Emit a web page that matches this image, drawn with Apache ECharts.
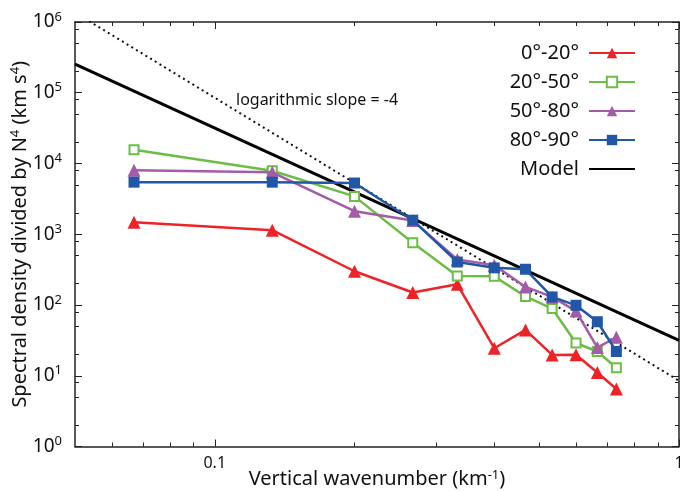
<!DOCTYPE html>
<html>
<head>
<meta charset="utf-8">
<script src="https://cdn.jsdelivr.net/npm/echarts@6/dist/echarts.min.js"></script>
<style>html,body{margin:0;padding:0;background:#fff;}#c{width:680px;height:491px;}</style>
</head>
<body>
<div id="c"></div>
<script>
// ---- data ----
const wavenumber = [0.067, 0.133, 0.200, 0.267, 0.333, 0.400, 0.467, 0.533, 0.600, 0.667, 0.733];
const lat0_20  = [1480, 1140, 300, 150, 196, 24.5, 44.5, 19.7, 19.8, 11.1, 6.5];
const lat20_50 = [15600, 7900, 3430, 760, 257, 254, 132, 89, 29, 22, 13];
const lat50_80 = [8000, 7500, 2120, 1560, 440, 366, 180, 130, 82, 25, 35];
const lat80_90 = [5450, 5450, 5300, 1580, 405, 335, 320, 130, 99, 58, 22];
const modelX = [0.05, 1];
const modelY = [253000, 31.6];
const slopeX = [0.05, 1];
const slopeY = [1360000, 8.5];
const seriesNames = ['0°-20°', '20°-50°', '50°-80°', '80°-90°', 'Model'];
const xMajorTicks = [0.1, 1];
const xMinorTicks = [0.06, 0.07, 0.08, 0.09, 0.2, 0.3, 0.4, 0.5, 0.6, 0.7, 0.8, 0.9];
const yMajorTicks = [1, 10, 100, 1000, 10000, 100000, 1000000];
const yMinorTicks = [2, 5, 8, 20, 50, 80, 200, 500, 800, 2000, 5000, 8000, 20000, 50000, 80000, 200000, 500000, 800000];

const FONT = 'Noto Sans';
const zip = (xs, ys) => xs.map((x, i) => [x, ys[i]]);
const axisCol = '#222';

function xAxisDef(pos, ticks, len, showLine, labels) {
  return {
    type: 'log', logBase: 10, min: 0.05, max: 1, position: pos,
    axisLine: { show: showLine, lineStyle: { color: axisCol, width: 1.5 } },
    axisTick: { show: true, inside: true, length: len, customValues: ticks, lineStyle: { color: axisCol, width: 1 } },
    axisLabel: labels ? { show: true, customValues: xMajorTicks, margin: 9, fontFamily: FONT, fontSize: 16, color: '#111',
      formatter: v => String(+v.toPrecision(3)) } : { show: false },
    splitLine: { show: false }
  };
}
function yAxisDef(pos, ticks, len, showLine, labels) {
  return {
    type: 'log', logBase: 10, min: 1, max: 1000000, position: pos,
    axisLine: { show: showLine, lineStyle: { color: axisCol, width: 1.5 } },
    axisTick: { show: true, inside: true, length: len, customValues: ticks, lineStyle: { color: axisCol, width: 1 } },
    axisLabel: labels ? { show: true, customValues: yMajorTicks, margin: 13, color: '#111',
      formatter: v => '{b|10}{s|' + Math.round(Math.log10(v)) + '}',
      rich: { b: { fontFamily: FONT, fontSize: 19, color: '#111' },
              s: { fontFamily: FONT, fontSize: 13, color: '#111', verticalAlign: 'bottom', padding: [0, 0, 10, 0] } } } : { show: false },
    splitLine: { show: false }
  };
}

const chart = echarts.init(document.getElementById('c'), null, { renderer: 'canvas' });
const option = {
  animation: false,
  backgroundColor: '#fff',
  grid: { left: 75, right: 1, top: 22, bottom: 44.5, containLabel: false, outerBoundsMode: 'none' },
  xAxis: [
    Object.assign(xAxisDef('bottom', xMajorTicks, 7, true, true), {
      name: '{a|Vertical wavenumber (km}{s|-1}{a|)}', nameLocation: 'middle', nameGap: 22, nameMoveOverlap: false,
      nameTextStyle: { rich: { a: { fontFamily: FONT, fontSize: 20, color: '#111' },
        s: { fontFamily: FONT, fontSize: 13, color: '#111', verticalAlign: 'bottom', padding: [0, 0, 9, 0] } } }
    }),
    xAxisDef('bottom', xMinorTicks, 4, false, false),
    xAxisDef('top', xMajorTicks, 7, true, false),
    xAxisDef('top', xMinorTicks, 4, false, false)
  ],
  yAxis: [
    Object.assign(yAxisDef('left', yMajorTicks, 7, true, true), {
      name: '{a|Spectral density divided by N}{s|4}{a| (km s}{s|4}{a|)}', nameLocation: 'middle', nameGap: 44, nameRotate: 90, nameMoveOverlap: false,
      nameTextStyle: { rich: { a: { fontFamily: FONT, fontSize: 20, color: '#111' },
        s: { fontFamily: FONT, fontSize: 13, color: '#111', verticalAlign: 'bottom', padding: [0, 0, 9, 0] } } }
    }),
    yAxisDef('left', yMinorTicks, 4, false, false),
    yAxisDef('right', yMajorTicks, 7, true, false),
    yAxisDef('right', yMinorTicks, 4, false, false)
  ],
  legend: {
    orient: 'vertical', right: 44, top: 43, align: 'right', padding: 0,
    itemWidth: 46, itemHeight: 13, itemGap: 9,
    textStyle: { fontFamily: FONT, fontSize: 20, color: '#111', padding: [0, 5, 0, 0] },
    data: seriesNames.slice(0, 4).concat([{ name: 'Model', itemStyle: { opacity: 0 } }])
  },
  graphic: [{
    type: 'text', left: 236, top: 92,
    style: { text: 'logarithmic slope = -4', fontFamily: FONT, fontSize: 16, fill: '#111' }
  }],
  series: [
    { name: 'slope', type: 'line', data: zip(slopeX, slopeY), showSymbol: false, symbol: 'none', clip: true,
      lineStyle: { color: '#111', width: 2, type: [2, 3.5] }, z: 1, silent: true },
    { name: 'Model', type: 'line', data: zip(modelX, modelY), showSymbol: false, symbol: 'none', clip: true,
      lineStyle: { color: '#000', width: 3 }, itemStyle: { color: '#000', opacity: 0 }, z: 2 },
    { name: seriesNames[0], type: 'line', data: zip(wavenumber, lat0_20), symbol: 'triangle', symbolSize: 13,
      lineStyle: { color: '#ed2327', width: 2.5 }, itemStyle: { color: '#ed2327' }, z: 3 },
    { name: seriesNames[1], type: 'line', data: zip(wavenumber, lat20_50), symbol: 'emptyRect', symbolSize: 9,
      lineStyle: { color: '#6cbd45', width: 2.5 }, itemStyle: { color: '#6cbd45', borderWidth: 2.5, borderColor: '#6cbd45' }, z: 4 },
    { name: seriesNames[2], type: 'line', data: zip(wavenumber, lat50_80), symbol: 'triangle', symbolSize: 13,
      lineStyle: { color: '#a45ba8', width: 2.5 }, itemStyle: { color: '#a45ba8' }, z: 5 },
    { name: seriesNames[3], type: 'line', data: zip(wavenumber, lat80_90), symbol: 'rect', symbolSize: 11,
      lineStyle: { color: '#2157a7', width: 2.5 }, itemStyle: { color: '#2157a7' }, z: 6 }
  ]
};
chart.setOption(option);
</script>
</body>
</html>
